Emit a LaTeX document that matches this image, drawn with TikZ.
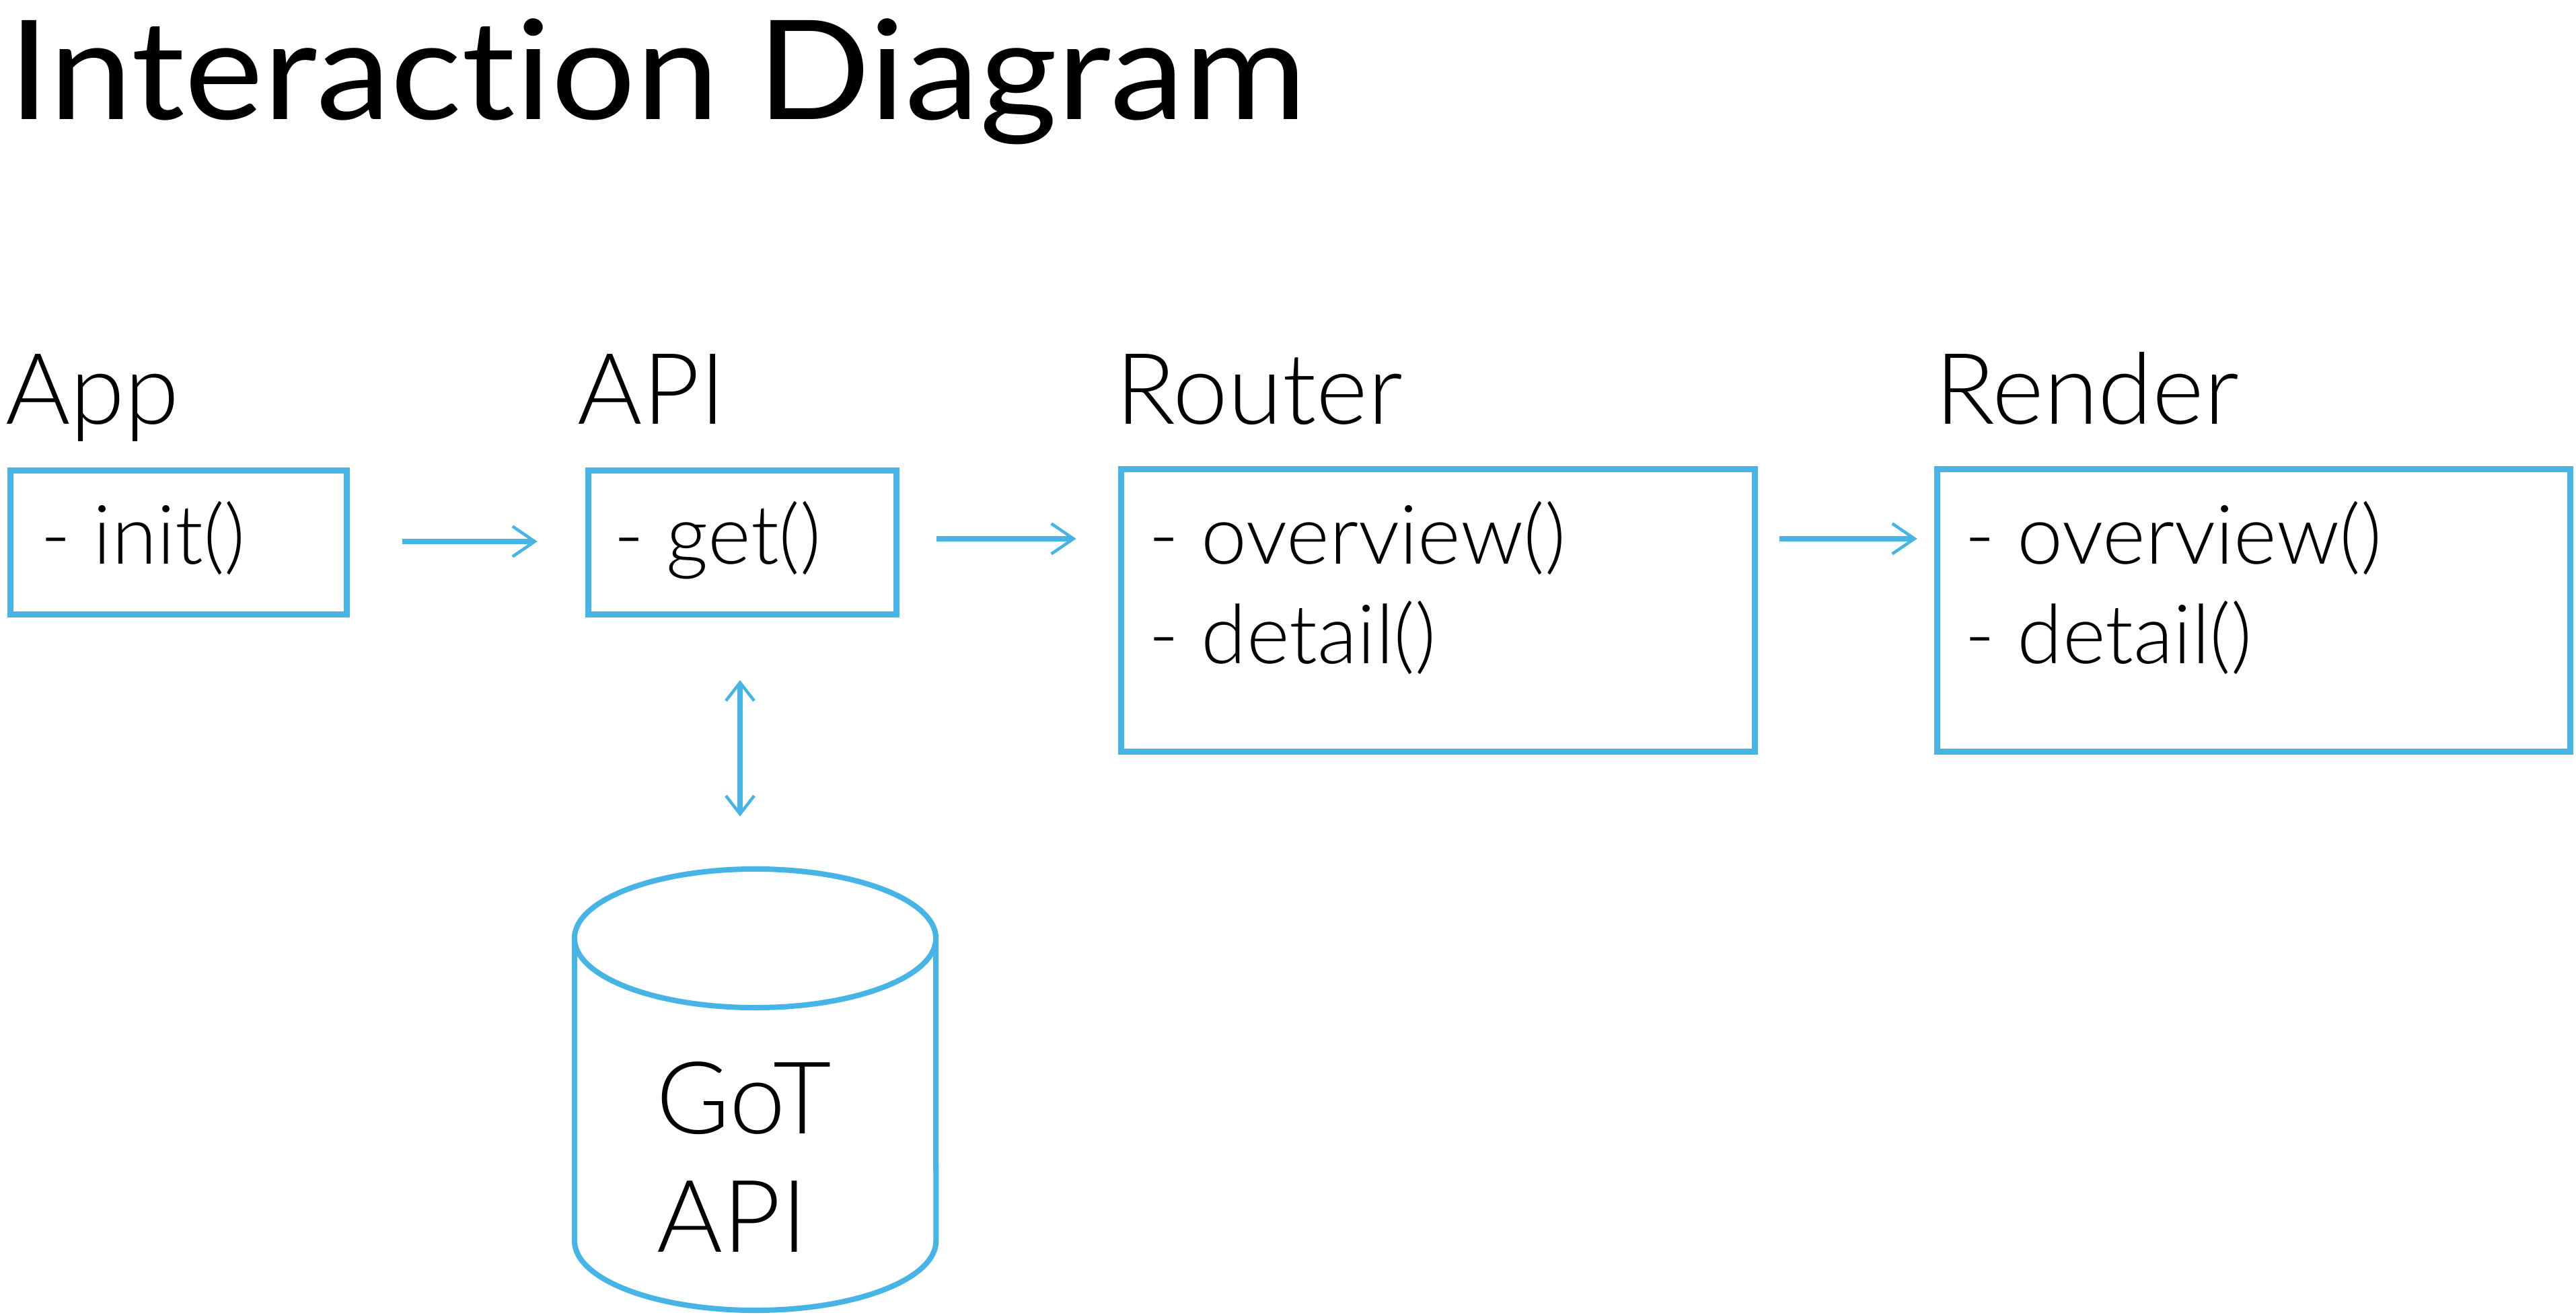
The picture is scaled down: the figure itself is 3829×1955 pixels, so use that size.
\documentclass[tikz,border=0pt]{standalone}
\usepackage{fontspec}
\setmainfont{Lato}[Ligatures=NoCommon]
\newfontfamily\lightfont{Lato Light}[Ligatures=NoCommon]
\usetikzlibrary{arrows.meta,calc}
\definecolor{skblue}{HTML}{46B5E6}
\tikzset{
  box/.style={draw=skblue, line width=0.09cm, inner sep=0pt, outer sep=0pt},
  lbl/.style={anchor=base west, inner sep=0pt, font=\lightfont\fontsize{41.8pt}{50pt}\selectfont},
  btext/.style={anchor=base west, inner sep=0pt, font=\lightfont\fontsize{34.7pt}{42pt}\selectfont},
  dbtext/.style={anchor=base west, inner sep=0pt, font=\lightfont\fontsize{42.5pt}{50pt}\selectfont},
  conn/.style={draw=skblue, line width=0.08cm, -{Straight Barb[length=0.33cm, width=0.45cm, line width=0.045cm]}},
  dconn/.style={draw=skblue, line width=0.08cm, {Straight Barb[length=0.27cm, width=0.42cm, line width=0.045cm]}-{Straight Barb[length=0.27cm, width=0.42cm, line width=0.045cm]}},
  cyl/.style={draw=skblue, line width=0.08cm}
}
\begin{document}
\begin{tikzpicture}[x=0.01cm, y=-0.01cm]
\useasboundingbox (0,0) rectangle (3829,1955);
% title
\node[anchor=base west, inner sep=0pt, font=\fontsize{58.4pt}{70pt}\selectfont] (title) at (12,178) {\scalebox{1.08}[1]{Interaction Diagram}};
% labels
\node[lbl] (lapp) at (8,630) {App};
\node[lbl] (lapi) at (858,630) {API};
\node[lbl] (lrouter) at (1658,630) {Router};
\node[lbl] (lrender) at (2876,630) {Render};
% boxes
\node[box, minimum width=4.99cm, minimum height=2.13cm] (app) at (265.5,806.5) {};
\node[box, minimum width=4.57cm, minimum height=2.13cm] (api) at (1103.5,806.5) {};
\node[box, minimum width=9.41cm, minimum height=4.19cm] (router) at (2137.5,907.5) {};
\node[box, minimum width=9.40cm, minimum height=4.19cm] (render) at (3350,907.5) {};
% box texts
\node[btext] (tinit) at (60,838) {- init()};
\node[btext] (tget) at (912,838) {- get()};
\node[btext] (tro) at (1707,838) {- overview()};
\node[btext] (trd) at (1707,986) {- detail()};
\node[btext] (teo) at (2920,838) {- overview()};
\node[btext] (ted) at (2920,986) {- detail()};
% database cylinder
\node[inner sep=0pt, outer sep=0pt, minimum width=5.45cm, minimum height=6.6cm] (db) at (1122.5,1620) {};
\draw[cyl] (1122.5,1395) ellipse [x radius=2.685cm, y radius=1.03cm];
\draw[cyl] (854,1395) -- (854,1845) arc[start angle=180, end angle=360, x radius=2.685cm, y radius=1.03cm] -- (1391,1395);
\node[dbtext] (tgot) at (975,1685) {GoT};
\node[dbtext] (tgapi) at (976,1861) {API};
% connectors
\draw[conn, shorten <=0.83cm, shorten >=0.76cm] (app.east |- 0,805) -- (api.west |- 0,805);
\coordinate (a2) at ($(api.north east)+(0,101)$);
\draw[conn, shorten <=0.6cm, shorten >=0.67cm] (a2) -- (a2 -| router.west);
\coordinate (a3) at ($(router.north east)+(0,103)$);
\draw[conn, shorten <=0.37cm, shorten >=0.3cm] (a3) -- (a3 -| render.west);
\draw[dconn, shorten <=0.98cm, shorten >=0.76cm] (api.south -| 1100,0) -- (db.north -| 1100,0);
\end{tikzpicture}
\end{document}
